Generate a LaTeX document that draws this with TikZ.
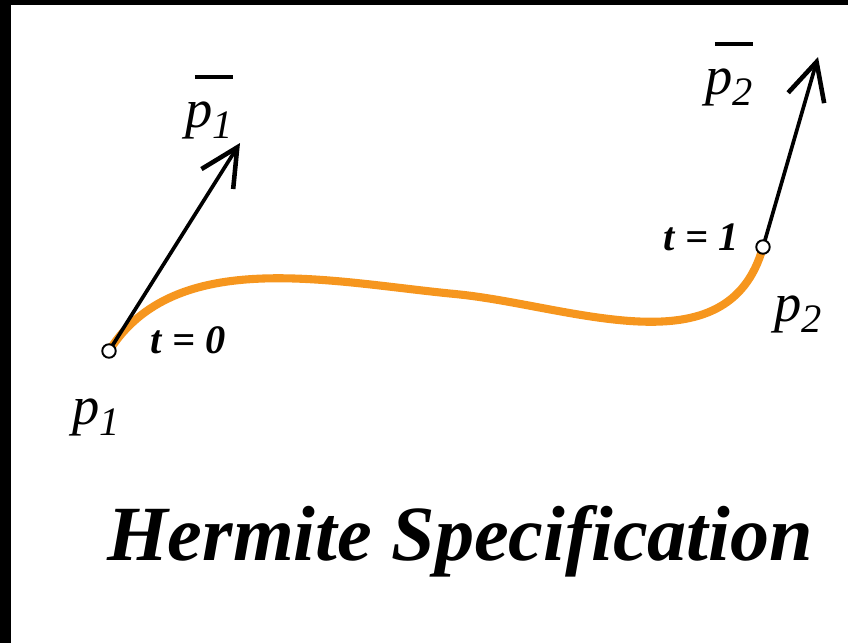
\documentclass[tikz,border=0pt]{standalone}
\usepackage{fontspec}
\setmainfont{Liberation Serif}
\usetikzlibrary{arrows.meta}
\definecolor{curveorange}{RGB}{246,150,30}
\newcommand{\ptname}[1]{\textit{p}\raisebox{-6.5pt}{\fontsize{23}{23}\selectfont\textit{#1}}}
\newcommand{\tanname}[1]{\setbox0\hbox{\ptname{#1}}\vbox{\offinterlineskip\hbox to \wd0{\hfil\rule{0.8\wd0}{2.2pt}}\vskip 13pt\box0}}

\begin{document}
\begin{tikzpicture}[x=.02cm,y=-.02cm,
    every node/.style={inner sep=0pt},
    tangent/.style={-{Straight Barb[length=7.5mm,width=7.5mm,line width=2.6pt]},line width=2.1pt},
    curve/.style={curveorange,line width=4.6pt},
    knot/.style={circle,draw,fill=white,line width=1.1pt,minimum size=2.7mm},
    ptlabel/.style={anchor=base,font=\fontsize{31}{31}\selectfont},
    tlabel/.style={anchor=base,font=\fontsize{23}{23}\selectfont\bfseries\itshape}]
  \useasboundingbox (0,0) rectangle (848,643);
  \fill (0,0) rectangle (11,643);
  \fill (0,0) rectangle (848,5);
  % end points and tangent tips
  \coordinate (p1) at (109,351);
  \coordinate (p2) at (763,247);
  \coordinate (v1) at (240,143);
  \coordinate (v2) at (818,57);
  \coordinate (mid) at (455,294);
  \draw[curve] (p1) .. controls (175,246) and (330,282) .. (mid) .. controls (570,305) and (728,372) .. (p2);
  \draw[tangent] (p1) -- (v1);
  \draw[tangent] (p2) -- (v2);
  \node[knot] (k1) at (p1) {};
  \node[knot] (k2) at (p2) {};
  % labels
  \node[ptlabel] (l1) at (96,424) {\ptname{1}};
  \node[ptlabel] (l2) at (798,321) {\ptname{2}};
  \node[ptlabel] (t1) at (209,127) {\tanname{1}};
  \node[ptlabel] (t2) at (729,94) {\tanname{2}};
  \node[tlabel] (s0) at (188,353) {t = 0};
  \node[tlabel] (s1) at (701,250) {t = 1};
  \node[anchor=base,font=\fontsize{44.5}{44.5}\selectfont\bfseries\itshape] (title) at (460,560) {Hermite Specification};
\end{tikzpicture}
\end{document}
